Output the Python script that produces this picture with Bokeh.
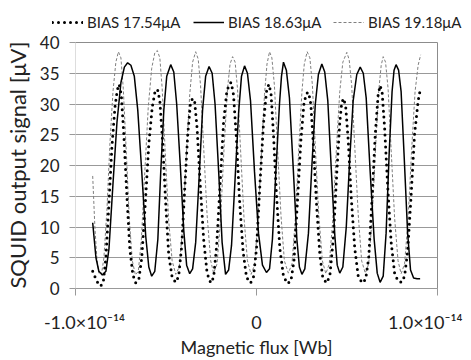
from bokeh.plotting import figure
from bokeh.models import Legend, LegendItem, FixedTicker, Range1d
from bokeh.layouts import column
from bokeh.embed import file_html
from bokeh.resources import INLINE

# Magnetic flux in units of 1e-14 Wb, SQUID output in microvolts
flux_1754 = [-0.905, -0.887, -0.871, -0.860, -0.846, -0.832, -0.815, -0.799, -0.782, -0.769,
             -0.759, -0.747, -0.733, -0.716, -0.700, -0.683, -0.667, -0.650, -0.634, -0.614,
             -0.595, -0.576, -0.562, -0.547, -0.534, -0.518, -0.501, -0.485, -0.466, -0.446,
             -0.430, -0.413, -0.397, -0.380, -0.366, -0.354, -0.342, -0.328, -0.311, -0.292,
             -0.273, -0.253, -0.237, -0.220, -0.201, -0.182, -0.165, -0.152, -0.140, -0.127,
             -0.110, -0.094, -0.074, -0.055, -0.033, -0.017, 0.000, 0.019, 0.039, 0.055,
             0.068, 0.080, 0.094, 0.110, 0.129, 0.149, 0.171, 0.190, 0.207, 0.226,
             0.245, 0.262, 0.275, 0.288, 0.300, 0.314, 0.331, 0.350, 0.366, 0.386,
             0.405, 0.424, 0.444, 0.460, 0.471, 0.482, 0.493, 0.507, 0.523, 0.543,
             0.562, 0.584, 0.603, 0.620, 0.639, 0.656, 0.672, 0.683, 0.694, 0.708,
             0.725, 0.744, 0.763, 0.782, 0.802, 0.818, 0.835, 0.854, 0.873, 0.893, 0.907]
signal_1754 = [2.8, 1.5, 0.6, 0.4, 1.2, 5, 14, 23, 29.5, 32.3,
               33.2, 31.5, 25, 15, 6.5, 2.2, 0.9, 1.5, 5, 14,
               23.5, 29.5, 31.8, 32.4, 30.5, 23.5, 13.5, 5.5, 1.8, 1.0,
               2.0, 7, 16, 25, 29.8, 30.9, 30.5, 26, 17, 8,
               2.5, 0.9, 1.8, 7, 17, 27, 31.8, 33.2, 33.5, 31.5,
               24, 14.5, 6, 1.8, 0.9, 1.8, 6.5, 17, 27, 32,
               33.2, 31.8, 25, 15.5, 6.5, 2, 0.8, 1.2, 4.5, 14,
               24, 30, 31.7, 31.9, 30, 23.5, 14, 5.5, 1.8, 0.9,
               2.0, 8, 19, 27, 30.3, 30.9, 29.5, 24, 15, 6.5,
               2, 0.9, 1.5, 5, 15, 25, 31.5, 33, 32, 26,
               16.5, 7.5, 2.5, 1.2, 1.0, 2.0, 6, 15, 25, 30.5, 32.7]

flux_1863 = [-0.905, -0.887, -0.871, -0.851, -0.832, -0.815, -0.793, -0.771, -0.749, -0.730,
             -0.712, -0.694, -0.675, -0.656, -0.634, -0.612, -0.595, -0.579, -0.562, -0.545,
             -0.529, -0.512, -0.496, -0.474, -0.457, -0.441, -0.421, -0.402, -0.386, -0.369,
             -0.353, -0.336, -0.317, -0.298, -0.281, -0.262, -0.245, -0.229, -0.209, -0.190,
             -0.171, -0.154, -0.138, -0.118, -0.099, -0.083, -0.066, -0.050, -0.033, -0.011,
             0.011, 0.033, 0.055, 0.072, 0.088, 0.107, 0.127, 0.138, 0.149, 0.165,
             0.182, 0.204, 0.223, 0.237, 0.251, 0.267, 0.287, 0.306, 0.325, 0.342,
             0.361, 0.377, 0.394, 0.413, 0.433, 0.446, 0.460, 0.477, 0.496, 0.515,
             0.534, 0.554, 0.573, 0.590, 0.606, 0.628, 0.650, 0.667, 0.683, 0.700,
             0.716, 0.733, 0.749, 0.760, 0.771, 0.785, 0.799, 0.815, 0.835, 0.851,
             0.868, 0.887, 0.904]
signal_1863 = [10.7, 5.0, 2.8, 2.2, 2.8, 6.5, 17, 27, 33.5, 36.0,
               36.7, 36.3, 34.5, 29, 19, 8.5, 3.5, 2.0, 2.8, 8,
               19, 29, 34.5, 36.4, 35.2, 30, 20, 9.5, 3.8, 2.4,
               3.2, 7.5, 18, 29, 34.5, 36.1, 35, 30, 19, 7.5,
               2.3, 3.0, 7, 18, 28.5, 34.5, 36.2, 35.0, 30.5, 19,
               9, 3.8, 2.6, 3.2, 8, 19, 30, 34.5, 36.8, 35.5,
               31, 19, 8, 3.5, 2.3, 3.2, 9, 20, 30, 34.8,
               36.5, 35.2, 30.5, 19.5, 8.5, 3.8, 2.5, 3.5, 10, 21,
               30.5, 34.8, 36.0, 35.0, 31, 19, 8, 2.5, 1.0, 2.0,
               9, 22, 32, 35.5, 36.4, 35.5, 32, 22, 9, 3,
               1.7, 1.6, 1.6]

flux_1918 = [-0.905, -0.893, -0.882, -0.871, -0.857, -0.843, -0.826, -0.810, -0.793, -0.777,
             -0.763, -0.749, -0.736, -0.719, -0.702, -0.686, -0.669, -0.653, -0.636, -0.617,
             -0.598, -0.579, -0.562, -0.548, -0.534, -0.521, -0.504, -0.485, -0.466, -0.446,
             -0.427, -0.408, -0.388, -0.369, -0.353, -0.336, -0.322, -0.309, -0.292, -0.273,
             -0.253, -0.237, -0.218, -0.198, -0.179, -0.160, -0.146, -0.132, -0.118, -0.105,
             -0.088, -0.069, -0.050, -0.030, -0.011, 0.008, 0.028, 0.044, 0.058, 0.072,
             0.085, 0.099, 0.116, 0.135, 0.154, 0.176, 0.196, 0.215, 0.234, 0.251,
             0.264, 0.280, 0.295, 0.309, 0.325, 0.344, 0.364, 0.383, 0.402, 0.421,
             0.441, 0.460, 0.477, 0.499, 0.512, 0.526, 0.543, 0.562, 0.581, 0.601,
             0.620, 0.639, 0.658, 0.675, 0.689, 0.700, 0.713, 0.727, 0.744, 0.763,
             0.782, 0.799, 0.818, 0.837, 0.857, 0.876, 0.893, 0.907]
signal_1918 = [18.3, 10, 5, 2.5, 2.2, 5, 13, 23.5, 32, 36.8,
               38.5, 37.5, 32.5, 22, 11, 4.5, 2.2, 2.8, 8, 19,
               29.5, 35.8, 38.3, 38.7, 37.5, 32.5, 22, 11, 4.5, 2.3,
               3.5, 10, 21.5, 31.5, 36.8, 38.5, 37.3, 33, 23, 12,
               4.5, 2.5, 4, 11.5, 23, 32.5, 36.5, 37.7, 36.8, 32.5,
               22.5, 11.5, 4.5, 2.3, 3.8, 11, 22.5, 31.5, 36.5, 38.5,
               37.5, 33, 23, 12, 4.5, 2.5, 4, 11.5, 23, 32,
               36.5, 38.5, 37.5, 33, 23, 12, 4.5, 2.4, 4, 11,
               22.5, 32, 36.8, 38.4, 37.2, 33, 23, 12, 4.5, 2.5,
               4, 11.5, 23, 32, 36.3, 37.7, 36.8, 32.5, 22.5, 11.5,
               4.5, 2.4, 4, 11, 22.5, 32, 36.3, 38.0]

series_labels = ["BIAS 17.54\u03bcA", "BIAS 18.63\u03bcA", "BIAS 19.18\u03bcA"]
y_ticks = [0, 5, 10, 15, 20, 25, 30, 35, 40]
x_ticks = [-1, 0, 1]
x_tick_labels = {-1: "\u2002\u2002-1.0\u00d710\u207b\u00b9\u2074", 0: "0",
                 1: "1.0\u00d710\u207b\u00b9\u2074\u2002"}

FONT = "Lato"
STYLE_DOT = dict(line_color="black", line_width=3, line_dash="0 6", line_cap="round")
STYLE_SOLID = dict(line_color="black", line_width=1.5)
STYLE_DASH = dict(line_color="#7f7f7f", line_width=1, line_dash="3 2")
NAN = float("nan")

# ---- legend strip (top) ----
leg = figure(width=471, height=32, output_backend="svg", toolbar_location=None,
             x_axis_type=None, y_axis_type=None,
             x_range=Range1d(0, 1), y_range=Range1d(0, 1),
             min_border=0, min_border_left=0, min_border_right=0,
             min_border_top=0, min_border_bottom=0,
             border_fill_color="white", background_fill_color="white")
leg.outline_line_color = None
leg.grid.visible = False

# detach the legend strip's frame from the main chart's frame alignment
if "frame_align" in leg.properties():
    leg.frame_align = False
    legend_offsets = [52, 193, 333]
else:
    legend_offsets = [-22, 119, 259]

legend_renderers = [leg.line([NAN], [NAN], **STYLE_DOT),
                    leg.line([NAN], [NAN], **STYLE_SOLID),
                    leg.line([NAN], [NAN], **STYLE_DASH)]
for label, rend, xoff in zip(series_labels, legend_renderers, legend_offsets):
    lg = Legend(items=[LegendItem(label=label, renderers=[rend])],
                orientation="horizontal", location=(xoff, 1),
                label_text_font=FONT, label_text_font_size="15px", label_text_color="#222222",
                glyph_width=31, glyph_height=16, label_standoff=4, spacing=0,
                padding=0, margin=0, border_line_alpha=0, background_fill_alpha=0)
    leg.add_layout(lg, "center")

# ---- main chart ----
p = figure(width=471, height=328, output_backend="svg", toolbar_location=None,
           x_range=Range1d(-1, 1), y_range=Range1d(0, 40),
           min_border_left=74, min_border_right=34, min_border_top=10, min_border_bottom=64,
           background_fill_color="white", border_fill_color="white")
p.outline_line_color = "#8c8c8c"

p.line(flux_1918, signal_1918, **STYLE_DASH)
p.line(flux_1754, signal_1754, **STYLE_DOT)
p.line(flux_1863, signal_1863, **STYLE_SOLID)

p.xgrid.grid_line_color = None
p.ygrid.grid_line_color = "#999999"
p.ygrid.grid_line_width = 1

p.xaxis.ticker = FixedTicker(ticks=x_ticks)
p.xaxis.major_label_overrides = x_tick_labels
p.xaxis.minor_tick_line_color = None
p.xaxis.major_tick_in = 0
p.xaxis.major_tick_out = 7
p.xaxis.major_tick_line_color = "#999999"
p.xaxis.axis_line_color = "#999999"
p.xaxis.major_label_standoff = 15
p.xaxis.major_label_text_font = FONT
p.xaxis.major_label_text_font_size = "18px"
p.xaxis.major_label_text_color = "#222222"
p.xaxis.axis_label = "Magnetic flux [Wb]"
p.xaxis.axis_label_text_font = FONT
p.xaxis.axis_label_text_font_size = "18px"
p.xaxis.axis_label_text_font_style = "normal"
p.xaxis.axis_label_text_color = "#222222"
p.xaxis.axis_label_standoff = 0

p.yaxis.ticker = FixedTicker(ticks=y_ticks)
p.yaxis.minor_tick_line_color = None
p.yaxis.major_tick_in = 0
p.yaxis.major_tick_out = 6
p.yaxis.major_tick_line_color = "#999999"
p.yaxis.axis_line_color = "#dddddd"
p.yaxis.major_label_standoff = 10
p.yaxis.major_label_text_font = FONT
p.yaxis.major_label_text_font_size = "17px"
p.yaxis.major_label_text_color = "#222222"
p.yaxis.axis_label = "SQUID output signal [\u03bcV]"
p.yaxis.axis_label_text_font = FONT
p.yaxis.axis_label_text_font_size = "22px"
p.yaxis.axis_label_text_font_style = "normal"
p.yaxis.axis_label_text_color = "#222222"
p.yaxis.axis_label_standoff = 6

layout = column(leg, p, spacing=0)
open("out.html", "w").write(file_html(layout, INLINE))
